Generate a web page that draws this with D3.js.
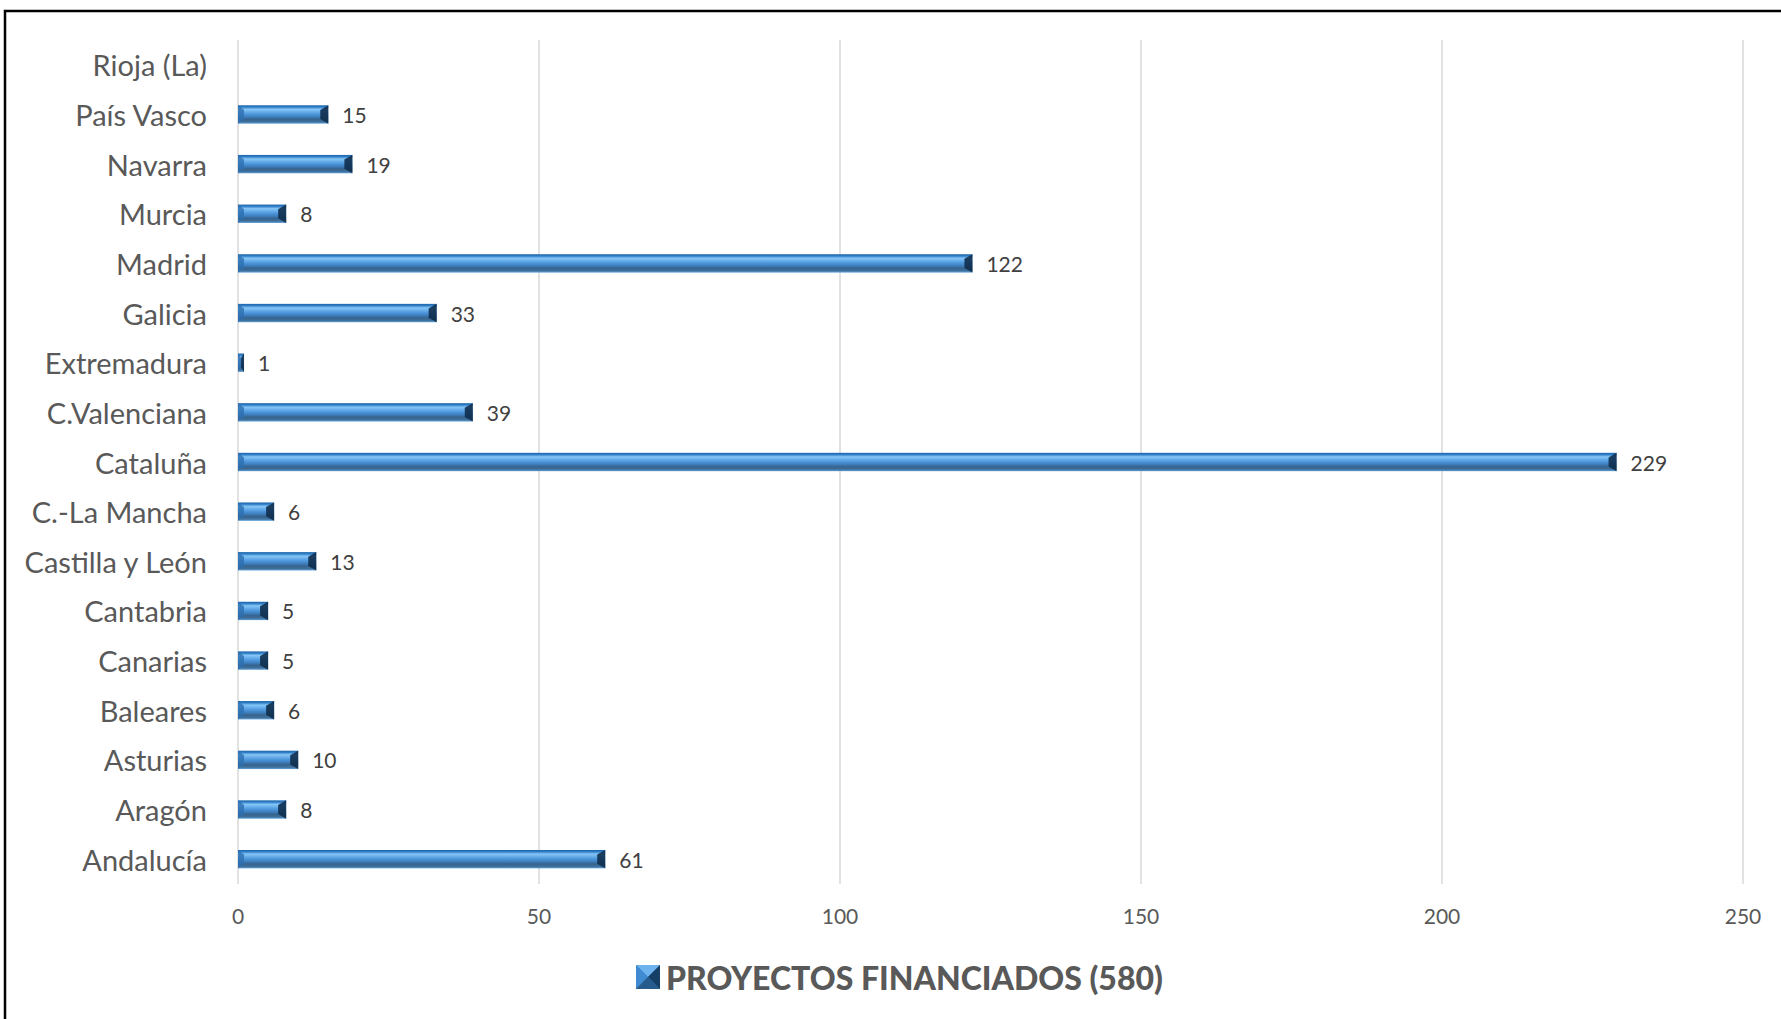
<!DOCTYPE html>
<html>
<head>
<meta charset="utf-8">
<script src="https://cdn.jsdelivr.net/npm/d3@7"></script>
<style>
  body { margin: 0; background: #fff; }
  text { font-family: Lato, "Open Sans", sans-serif; }
</style>
</head>
<body>
<div id="chart"></div>
<script>
// chart data, top of chart first
const categories = ["Rioja (La)", "País Vasco", "Navarra", "Murcia", "Madrid", "Galicia",
  "Extremadura", "C.Valenciana", "Cataluña", "C.-La Mancha", "Castilla y León",
  "Cantabria", "Canarias", "Baleares", "Asturias", "Aragón", "Andalucía"];
const values = [0, 15, 19, 8, 122, 33, 1, 39, 229, 6, 13, 5, 5, 6, 10, 8, 61];
const xTicks = [0, 50, 100, 150, 200, 250];
const seriesName = "PROYECTOS FINANCIADOS (580)";

const width = 1781, height = 1019;
const grey = "#595959";

const svg = d3.select("#chart").append("svg")
  .attr("width", width)
  .attr("height", height);

svg.append("rect").attr("width", width).attr("height", height).attr("fill", "#fff");

// bar gradient
const defs = svg.append("defs");
const grad = defs.append("linearGradient")
  .attr("id", "barGrad")
  .attr("x1", 0).attr("y1", 0).attr("x2", 0).attr("y2", 1);
[
  ["0%", "#1d63a8"], ["10%", "#3180c8"], ["22%", "#86c6f7"], ["45%", "#529ce0"],
  ["62%", "#3e80c0"], ["76%", "#36638d"], ["90%", "#3f709b"], ["100%", "#62a3db"]
].forEach(([o, c]) => grad.append("stop").attr("offset", o).attr("stop-color", c));

const x = d3.scaleLinear().domain([0, 250]).range([238, 1743]);
const y = d3.scaleBand().domain(categories).range([40, 884]).paddingInner(0.63).paddingOuter(0.315);

// gridlines
svg.append("g")
  .selectAll("line")
  .data(xTicks)
  .join("line")
  .attr("x1", d => x(d)).attr("x2", d => x(d))
  .attr("y1", 40).attr("y2", 884)
  .attr("stroke", "#d9d9d9")
  .attr("stroke-width", 1.5);

// x tick labels
svg.append("g")
  .selectAll("text")
  .data(xTicks)
  .join("text")
  .attr("x", d => x(d))
  .attr("y", 915)
  .attr("text-anchor", "middle")
  .attr("dominant-baseline", "central")
  .attr("font-size", 21)
  .attr("fill", grey)
  .text(d => d);

// category labels
svg.append("g")
  .selectAll("text")
  .data(categories)
  .join("text")
  .attr("x", 207)
  .attr("y", d => y(d) + y.bandwidth() / 2)
  .attr("text-anchor", "end")
  .attr("dominant-baseline", "central")
  .attr("font-size", 29)
  .attr("fill", grey)
  .text(d => d);

// bars
const rows = categories.map((c, i) => ({ cat: c, v: values[i] })).filter(d => d.v > 0);
const bh = y.bandwidth();
const bars = svg.append("g")
  .selectAll("g")
  .data(rows)
  .join("g")
  .attr("transform", d => `translate(${x(0)},${y(d.cat)})`);

bars.append("rect")
  .attr("width", d => x(d.v) - x(0))
  .attr("height", bh)
  .attr("fill", "url(#barGrad)");

// left bevel
bars.append("path")
  .attr("d", d => {
    const w = Math.min(6, (x(d.v) - x(0)) / 2);
    return `M0,0 L${w},${bh * 0.25} L${w},${bh * 0.75} L0,${bh} Z`;
  })
  .attr("fill", "#2d6fb0")
  .attr("opacity", 0.8);

// right bevel
bars.append("path")
  .attr("d", d => {
    const bw = x(d.v) - x(0);
    const w = Math.min(8, bw / 2);
    return `M${bw},0 L${bw - w},${bh * 0.25} L${bw - w},${bh * 0.75} L${bw},${bh} Z`;
  })
  .attr("fill", "#0f2d4c")
  .attr("opacity", 0.9);

// value labels
bars.append("text")
  .attr("x", d => x(d.v) - x(0) + 14)
  .attr("y", bh / 2)
  .attr("dominant-baseline", "central")
  .attr("font-size", 21)
  .attr("fill", "#404040")
  .text(d => d.v);

// legend
const lg = svg.append("g").attr("transform", "translate(636,965)");
const s = 24;
lg.append("rect").attr("width", s).attr("height", s).attr("fill", "#2f7cc4");
lg.append("path").attr("d", `M0,0 L${s},0 L${s / 2},${s / 2} Z`).attr("fill", "#6fb3ee");
lg.append("path").attr("d", `M0,0 L${s / 2},${s / 2} L0,${s} Z`).attr("fill", "#3f8ad0");
lg.append("path").attr("d", `M${s},0 L${s},${s} L${s / 2},${s / 2} Z`).attr("fill", "#163f66");
lg.append("path").attr("d", `M0,${s} L${s},${s} L${s / 2},${s / 2} Z`).attr("fill", "#275b8c");
lg.append("text")
  .attr("x", 30)
  .attr("y", s / 2)
  .attr("dominant-baseline", "central")
  .attr("font-size", 32)
  .attr("font-weight", 900)
  .attr("fill", grey)
  .text(seriesName);

// frame (only top and left edges show)
svg.append("path")
  .attr("d", `M5,${height} L5,11 L${width},11`)
  .attr("fill", "none")
  .attr("stroke", "#000")
  .attr("stroke-width", 2.5);
</script>
</body>
</html>
